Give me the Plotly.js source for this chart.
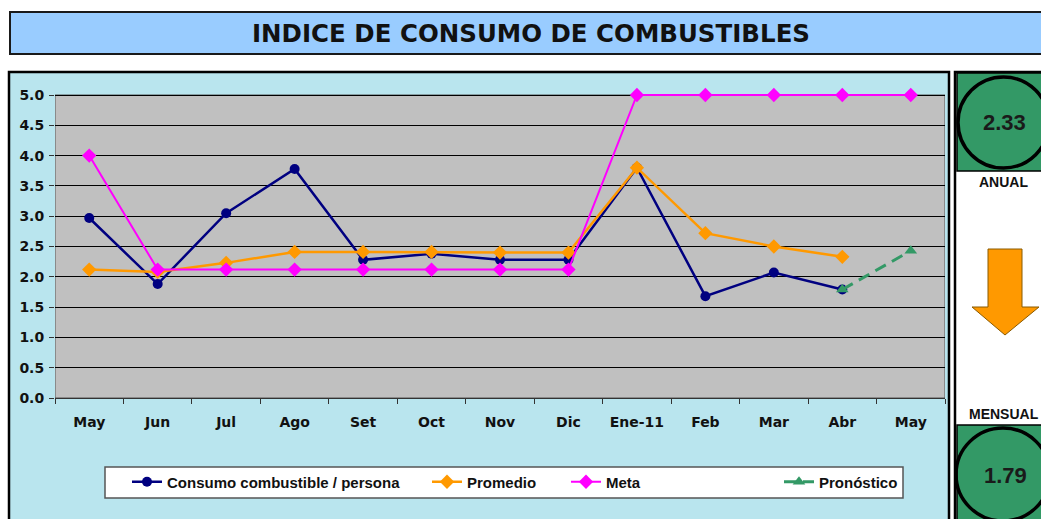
<!DOCTYPE html>
<html>
<head>
<meta charset="utf-8">
<script src="https://cdn.plot.ly/plotly-3.0.1.min.js"></script>
<style>
  html, body { margin: 0; padding: 0; background: #ffffff; }
  #chart { width: 1041px; height: 519px; }
</style>
</head>
<body>
<div id="chart"></div>
<script>
// ---- data ----
const categories = ['May', 'Jun', 'Jul', 'Ago', 'Set', 'Oct', 'Nov', 'Dic', 'Ene-11', 'Feb', 'Mar', 'Abr', 'May'];
const consumo    = [2.97, 1.88, 3.05, 3.78, 2.28, 2.38, 2.28, 2.28, 3.80, 1.68, 2.07, 1.79, null];
const promedio   = [2.12, 2.08, 2.23, 2.41, 2.41, 2.41, 2.40, 2.40, 3.80, 2.72, 2.50, 2.33, null];
const meta       = [4.00, 2.12, 2.12, 2.12, 2.12, 2.12, 2.12, 2.12, 5.00, 5.00, 5.00, 5.00, 5.00];
const pronostico = [null, null, null, null, null, null, null, null, null, null, null, 1.79, 2.43];
const seriesNames = ['Consumo combustible / persona', 'Promedio', 'Meta', 'Pronóstico'];
const chartTitle = 'INDICE DE CONSUMO DE COMBUSTIBLES';
const yTicks = [0, 0.5, 1, 1.5, 2, 2.5, 3, 3.5, 4, 4.5, 5];
const yMaxValue = 5;

// ---- geometry helpers (page pixels -> paper coords) ----
const W = 1041, H = 519;
const PL = 55, PR = 945, PB = 398, P5 = 95;      // pixel of y=0 and y=5
const PT = 92;                                   // actual top of subplot (a little headroom so the 5.0 line isn't clipped)
const unitPx = (PB - P5) / yMaxValue;
const yTop = (PB - PT) / unitPx;
const X = px => (px - PL) / (PR - PL);
const Y = py => (PB - py) / (PB - PT);

const xIdx = categories.map((_, i) => i);
const chartFont = 'DejaVu Sans, Verdana, sans-serif';
const arialFont = 'Liberation Sans, Arial, sans-serif';

const legendFont = {family: arialFont, size: 15, color: '#111111', weight: 'bold'};

const traces = [
  {x: xIdx, y: consumo, name: seriesNames[0], type: 'scatter', mode: 'lines+markers',
   line: {color: '#000080', width: 2.5}, marker: {symbol: 'circle', size: 10, color: '#000080'},
   legend: 'legend'},
  {x: xIdx, y: promedio, name: seriesNames[1], type: 'scatter', mode: 'lines+markers',
   line: {color: '#FF9900', width: 2.5}, marker: {symbol: 'diamond', size: 11, color: '#FF9900'},
   legend: 'legend2'},
  {x: xIdx, y: meta, name: seriesNames[2], type: 'scatter', mode: 'lines+markers',
   line: {color: '#FF00FF', width: 2}, marker: {symbol: 'diamond', size: 11, color: '#FF00FF'},
   legend: 'legend3', cliponaxis: false},
  {x: xIdx, y: pronostico, name: seriesNames[3], type: 'scatter', mode: 'lines+markers',
   line: {color: '#339966', width: 3, dash: '12px,7px'}, marker: {symbol: 'triangle-up', size: 11, color: '#339966'},
   legend: 'legend4'}
];

const legY = Y(482);
function leg(px) {
  return {x: X(px), y: legY, xanchor: 'left', yanchor: 'middle', orientation: 'h',
          bgcolor: 'rgba(0,0,0,0)', borderwidth: 0, font: legendFont};
}

function rect(x0, y0, x1, y1, fill, lineColor, lineWidth, layer) {
  return {type: 'rect', xref: 'paper', yref: 'paper', x0: X(x0), x1: X(x1), y0: Y(y1), y1: Y(y0),
          fillcolor: fill, line: {color: lineColor, width: lineWidth}, layer: layer || 'above'};
}
function circle(x0, y0, x1, y1, lineColor, lineWidth) {
  return {type: 'circle', xref: 'paper', yref: 'paper', x0: X(x0), x1: X(x1), y0: Y(y1), y1: Y(y0),
          fillcolor: 'rgba(0,0,0,0)', line: {color: lineColor, width: lineWidth}, layer: 'above'};
}
function pathOf(pts) {
  return 'M' + pts.map(p => X(p[0]) + ',' + Y(p[1])).join('L') + 'Z';
}

const arrowPts = [[988, 249], [1022, 249], [1022, 307], [1039, 307], [1005, 335], [972, 307], [988, 307]];

const shapes = [
  // chart panel background
  rect(9, 72, 949, 522, '#B9E5EE', '#000000', 2.5, 'below'),
  // plot area (in axis coordinates, drawn under the grid)
  {type: 'rect', xref: 'x', yref: 'y', x0: -0.5, x1: categories.length - 0.5, y0: 0, y1: yMaxValue,
   fillcolor: '#C0C0C0', line: {color: '#555555', width: 1}, layer: 'below'},
  // legend box
  rect(105, 467, 903, 498, '#FFFFFF', '#555555', 1.5, 'below'),
  // title box
  rect(10, 12, 1048, 54, '#99CCFF', '#1a1a1a', 2, 'above'),
  // right panel
  rect(955, 72, 1048, 522, '#FFFFFF', '#000000', 2.5, 'above'),
  rect(957, 73, 1048, 171, '#339966', '#000000', 1.5, 'above'),
  rect(957, 425, 1048, 522, '#339966', '#000000', 1.5, 'above'),
  circle(958, 77, 1049, 168, '#000000', 3.5),
  circle(956, 428, 1050, 521, '#000000', 3.5),
  {type: 'path', xref: 'paper', yref: 'paper', path: pathOf(arrowPts),
   fillcolor: '#FF9900', line: {color: '#8a5a00', width: 1}, layer: 'above'}
];

const annualVal = promedio.filter(v => v !== null).slice(-1)[0];
const monthlyVal = consumo.filter(v => v !== null).slice(-1)[0];

const annotations = [
  {text: chartTitle, xref: 'paper', yref: 'paper', x: X(531), y: Y(33), xanchor: 'center', yanchor: 'middle',
   showarrow: false, font: {family: chartFont, size: 24.5, color: '#111111', weight: 'bold'}},
  {text: annualVal.toFixed(2), xref: 'paper', yref: 'paper', x: X(1004), y: Y(122), xanchor: 'center', yanchor: 'middle',
   showarrow: false, font: {family: arialFont, size: 22, color: '#1a1a1a', weight: 'bold'}},
  {text: 'ANUAL', xref: 'paper', yref: 'paper', x: X(1003), y: Y(182), xanchor: 'center', yanchor: 'middle',
   showarrow: false, font: {family: arialFont, size: 14, color: '#111111', weight: 'bold'}},
  {text: 'MENSUAL', xref: 'paper', yref: 'paper', x: X(1004), y: Y(414), xanchor: 'center', yanchor: 'middle',
   showarrow: false, font: {family: arialFont, size: 14, color: '#111111', weight: 'bold'}},
  {text: monthlyVal.toFixed(2), xref: 'paper', yref: 'paper', x: X(1005), y: Y(475), xanchor: 'center', yanchor: 'middle',
   showarrow: false, font: {family: arialFont, size: 22, color: '#1a1a1a', weight: 'bold'}}
];

const layout = {
  width: W, height: H,
  margin: {l: PL, r: W - PR, t: PT, b: H - PB, pad: 0},
  paper_bgcolor: '#FFFFFF',
  plot_bgcolor: 'rgba(0,0,0,0)',
  showlegend: true,
  legend: leg(127), legend2: leg(427), legend3: leg(566), legend4: leg(779),
  xaxis: {
    range: [-0.5, categories.length - 0.5], fixedrange: true,
    tickmode: 'array', tickvals: xIdx, ticktext: categories,
    ticks: '', showgrid: false, zeroline: false,
    showline: true, linecolor: '#333333', linewidth: 1,
    ticklabelstandoff: 11,
    tickfont: {family: chartFont, size: 14, color: '#111111', weight: 'bold'},
    minor: {tickmode: 'array', tickvals: categories.map((_, i) => i - 0.5).concat([categories.length - 0.5]),
            ticks: 'outside', ticklen: 5, tickcolor: '#333333', tickwidth: 1, showgrid: false}
  },
  yaxis: {
    range: [0, yTop], fixedrange: true,
    tickmode: 'array', tickvals: yTicks, tickformat: '.1f',
    ticks: 'outside', ticklen: 5, tickcolor: '#333333',
    showgrid: true, gridcolor: '#000000', gridwidth: 1,
    zeroline: false, showline: false,
    ticklabelstandoff: 2,
    tickfont: {family: chartFont, size: 14, color: '#111111', weight: 'bold'}
  },
  shapes: shapes,
  annotations: annotations
};

Plotly.newPlot('chart', traces, layout, {displayModeBar: false, staticPlot: true});
</script>
</body>
</html>
